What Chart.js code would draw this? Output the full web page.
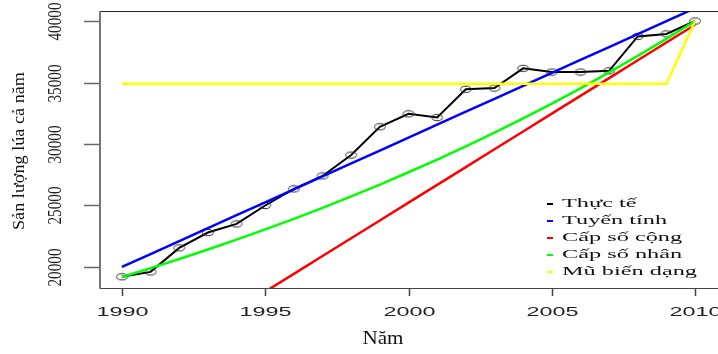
<!DOCTYPE html>
<html>
<head>
<meta charset="utf-8">
<script src="https://cdn.jsdelivr.net/npm/chart.js@4.4.1/dist/chart.umd.min.js"></script>
<style>
  html, body { margin: 0; padding: 0; background: #fff; }
  canvas { display: block; }
</style>
</head>
<body>
<canvas id="c" width="718" height="354"></canvas>
<script>
// ---- data ----
const years      = [1990,1991,1992,1993,1994,1995,1996,1997,1998,1999,2000,2001,2002,2003,2004,2005,2006,2007,2008,2009,2010];
const actual     = [19200,19600,21550,22800,23500,25000,26350,27400,29100,31400,32450,32150,34450,34550,36150,35850,35850,35950,38750,38950,40000];
const linearFit  = [20000,21052,22104,23156,24208,25260,26312,27364,28416,29468,30520,31572,32624,33676,34728,35780,36832,37884,38936,39988,41040];
const arithProg  = [10760,12207,13654,15101,16548,17995,19442,20889,22336,23783,25230,26677,28124,29571,31018,32465,33912,35359,36806,38253,39700];
const geomProg   = [19187,19905,20649,21422,22223,23054,23917,24811,25739,26702,27701,28737,29812,30927,32084,33284,34529,35821,37161,38551,40000];
const modExp     = [34900,34900,34900,34900,34900,34900,34900,34900,34900,34900,34900,34900,34900,34900,34900,34900,34900,34900,34900,34900,40000];
const seriesNames = ['Thực tế','Tuyến tính','Cấp số cộng','Cấp số nhân','Mũ biến dạng'];
const seriesColors = ['#000000','#0000ff','#ff0000','#00ff00','#ffff00'];
const xTicks = [1990,1995,2000,2005,2010];
const yTicks = [20000,25000,30000,35000,40000];
const xTitle = 'Năm';
const yTitle = 'Sản lượng lúa cả năm';

function pts(arr){ return years.map((y,i)=>({x:y, y:arr[i]})); }

// open elliptical circle marker (R pch=1, stretched look)
const mk = document.createElement('canvas');
mk.width = 14; mk.height = 9;
(function(){
  const g = mk.getContext('2d');
  g.strokeStyle = '#333'; g.lineWidth = 1;
  g.beginPath(); g.ellipse(7, 4.5, 5.5, 3.2, 0, 0, Math.PI*2); g.stroke();
})();

function drawFit(ctx, text, x, y, font, width, rot, across, align, color){
  ctx.save();
  ctx.font = font;
  const w = ctx.measureText(text).width;
  const s = width ? width / w : 1;
  ctx.translate(x, y);
  if (rot) ctx.rotate(rot);
  ctx.scale(s, across || 1);
  ctx.textAlign = align || 'center';
  ctx.textBaseline = 'middle';
  ctx.fillStyle = color || '#111';
  ctx.fillText(text, 0, 0);
  ctx.restore();
}

const rAxes = {
  id: 'rAxes',
  afterDraw(chart){
    const ctx = chart.ctx, a = chart.chartArea;
    const xs = chart.scales.x, ys = chart.scales.y;
    ctx.save();
    // box
    ctx.strokeStyle = '#222'; ctx.lineWidth = 1.2;
    ctx.beginPath(); ctx.moveTo(a.left, a.top + 0.5); ctx.lineTo(a.right, a.top + 0.5); ctx.stroke();
    ctx.strokeStyle = '#444'; ctx.lineWidth = 1.2;
    ctx.beginPath(); ctx.moveTo(a.left, a.bottom + 0.5); ctx.lineTo(a.right, a.bottom + 0.5); ctx.stroke();
    ctx.strokeStyle = '#777'; ctx.lineWidth = 2;
    ctx.beginPath(); ctx.moveTo(a.left + 1, a.top); ctx.lineTo(a.left + 1, a.bottom + 1); ctx.stroke();
    // y ticks
    ctx.strokeStyle = '#666'; ctx.lineWidth = 1.5;
    yTicks.forEach(v => {
      const py = Math.round(ys.getPixelForValue(v)) + 0.5;
      ctx.beginPath(); ctx.moveTo(a.left - 15, py); ctx.lineTo(a.left, py); ctx.stroke();
      drawFit(ctx, String(v), 56.5, py, '19px "Liberation Serif"', 38, -Math.PI/2, 1, 'center', '#222');
    });
    // x ticks
    ctx.strokeStyle = '#444'; ctx.lineWidth = 1.5;
    ctx.font = '13px "Liberation Sans"';
    const sx = 52 / ctx.measureText('1990').width;
    xTicks.forEach(v => {
      const px = Math.round(xs.getPixelForValue(v)) + 0.5;
      ctx.beginPath(); ctx.moveTo(px, a.bottom); ctx.lineTo(px, a.bottom + 8); ctx.stroke();
      ctx.save();
      ctx.font = '13px "Liberation Sans"';
      ctx.translate(px, 312.5); ctx.scale(sx, 1);
      ctx.textAlign = 'center'; ctx.textBaseline = 'middle'; ctx.fillStyle = '#222';
      ctx.fillText(String(v), 0, 0);
      ctx.restore();
    });
    // titles
    drawFit(ctx, yTitle, 20, 151, '16px "Liberation Serif"', 158, -Math.PI/2, 1, 'center', '#111');
    drawFit(ctx, xTitle, 383, 339, '19px "Liberation Serif"', 41, 0, 1, 'center', '#111');
    // legend
    ctx.font = '13px "Liberation Serif"';
    const ls = 135 / ctx.measureText('Mũ biến dạng').width;
    seriesNames.forEach((n, i) => {
      const ry = 204 + i * 17;
      ctx.strokeStyle = seriesColors[i]; ctx.lineWidth = 2;
      ctx.beginPath(); ctx.moveTo(547, ry); ctx.lineTo(553, ry); ctx.stroke();
      ctx.save();
      ctx.font = '13px "Liberation Serif"';
      ctx.translate(562, ry); ctx.scale(ls, 1);
      ctx.textAlign = 'left'; ctx.textBaseline = 'middle'; ctx.fillStyle = '#111';
      ctx.fillText(n, 0, 0);
      ctx.restore();
    });
    ctx.restore();
  }
};

new Chart(document.getElementById('c'), {
  type: 'line',
  data: {
    datasets: [
      { label: seriesNames[0], data: pts(actual), borderColor: seriesColors[0], borderWidth: 2,
        pointStyle: mk, pointRadius: 4, order: 4 },
      { label: seriesNames[1], data: pts(linearFit), borderColor: seriesColors[1], borderWidth: 2.5, pointRadius: 0, order: 3 },
      { label: seriesNames[2], data: pts(arithProg), borderColor: seriesColors[2], borderWidth: 2.5, pointRadius: 0, order: 2 },
      { label: seriesNames[3], data: pts(geomProg), borderColor: seriesColors[3], borderWidth: 2.5, pointRadius: 0, order: 1 },
      { label: seriesNames[4], data: pts(modExp), borderColor: seriesColors[4], borderWidth: 2.5, pointRadius: 0, order: 0 }
    ]
  },
  options: {
    responsive: false,
    animation: false,
    devicePixelRatio: 1,
    layout: { autoPadding: false, padding: { left: 99, right: 0, top: 11, bottom: 66 } },
    elements: { line: { tension: 0, fill: false } },
    plugins: { legend: { display: false }, tooltip: { enabled: false } },
    scales: {
      x: { type: 'linear', min: 1989.2, max: 2010.8, display: false },
      y: { type: 'linear', min: 18290, max: 40815, display: false }
    }
  },
  plugins: [rAxes]
});
</script>
</body>
</html>
